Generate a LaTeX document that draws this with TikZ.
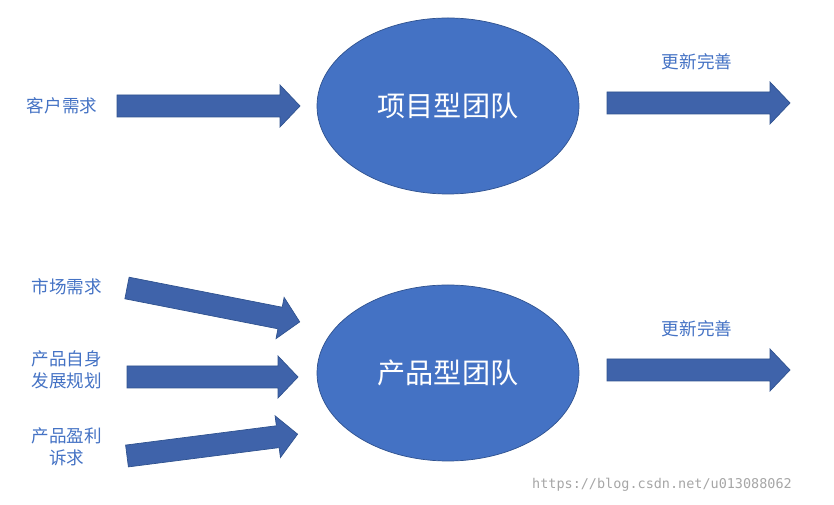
\documentclass[tikz,border=0pt]{standalone}
\usepackage{fontspec}
\newfontfamily\cjk{Noto Sans CJK SC}
\setmonofont{DejaVu Sans Mono}
\definecolor{ellfill}{HTML}{4472C4}
\definecolor{ellline}{HTML}{2F528F}
\definecolor{arrfill}{HTML}{3F63AA}
\definecolor{lbl}{HTML}{4472C4}
\begin{document}
\begin{tikzpicture}[x=0.03cm,y=0.03cm,
  team/.style={ellipse,draw=ellline,line width=0.6pt,fill=ellfill,minimum width=262*0.03cm,minimum height=176*0.03cm,text=white,font=\cjk\fontsize{24}{28}\selectfont},
  lab/.style={text=lbl,font=\cjk\fontsize{15}{19}\selectfont,align=center},
  arrowstyle/.style={fill=arrfill,draw=ellline,line width=0.6pt},
  fatarrow/.pic={\draw[arrowstyle] (0,-11)--(#1-20,-11)--(#1-20,-21)--(#1,0)--(#1-20,21)--(#1-20,11)--(0,11)--cycle;}]
\usetikzlibrary{shapes.geometric}
\useasboundingbox (0,0) rectangle (834,505);
\node[team] (t1) at (448,399) {项目型团队};
\node[team] (t2) at (448,132) {产品型团队};
\pic at (117,399) {fatarrow=183};
\pic at (607,402) {fatarrow=183};
\pic at (607,135) {fatarrow=183};
\pic at (127,128) {fatarrow=171};
\pic[rotate=-11.1] at (127,217) {fatarrow=176};
\pic[rotate=7.3] at (127,49) {fatarrow=172};
\node[lab] (l1) at (62,399) {客户需求};
\node[lab] (l2) at (697,443) {更新完善};
\node[lab] (l3) at (697,176) {更新完善};
\node[lab] (l4) at (67,218) {市场需求};
\node[lab] (l5) at (67,135) {产品自身\\发展规划};
\node[lab] (l6) at (67,58) {产品盈利\\诉求};
\node[text=black!35,font=\ttfamily\fontsize{11.5}{13}\selectfont] (w) at (662,20) {https://blog.csdn.net/u013088062};
\end{tikzpicture}
\end{document}
